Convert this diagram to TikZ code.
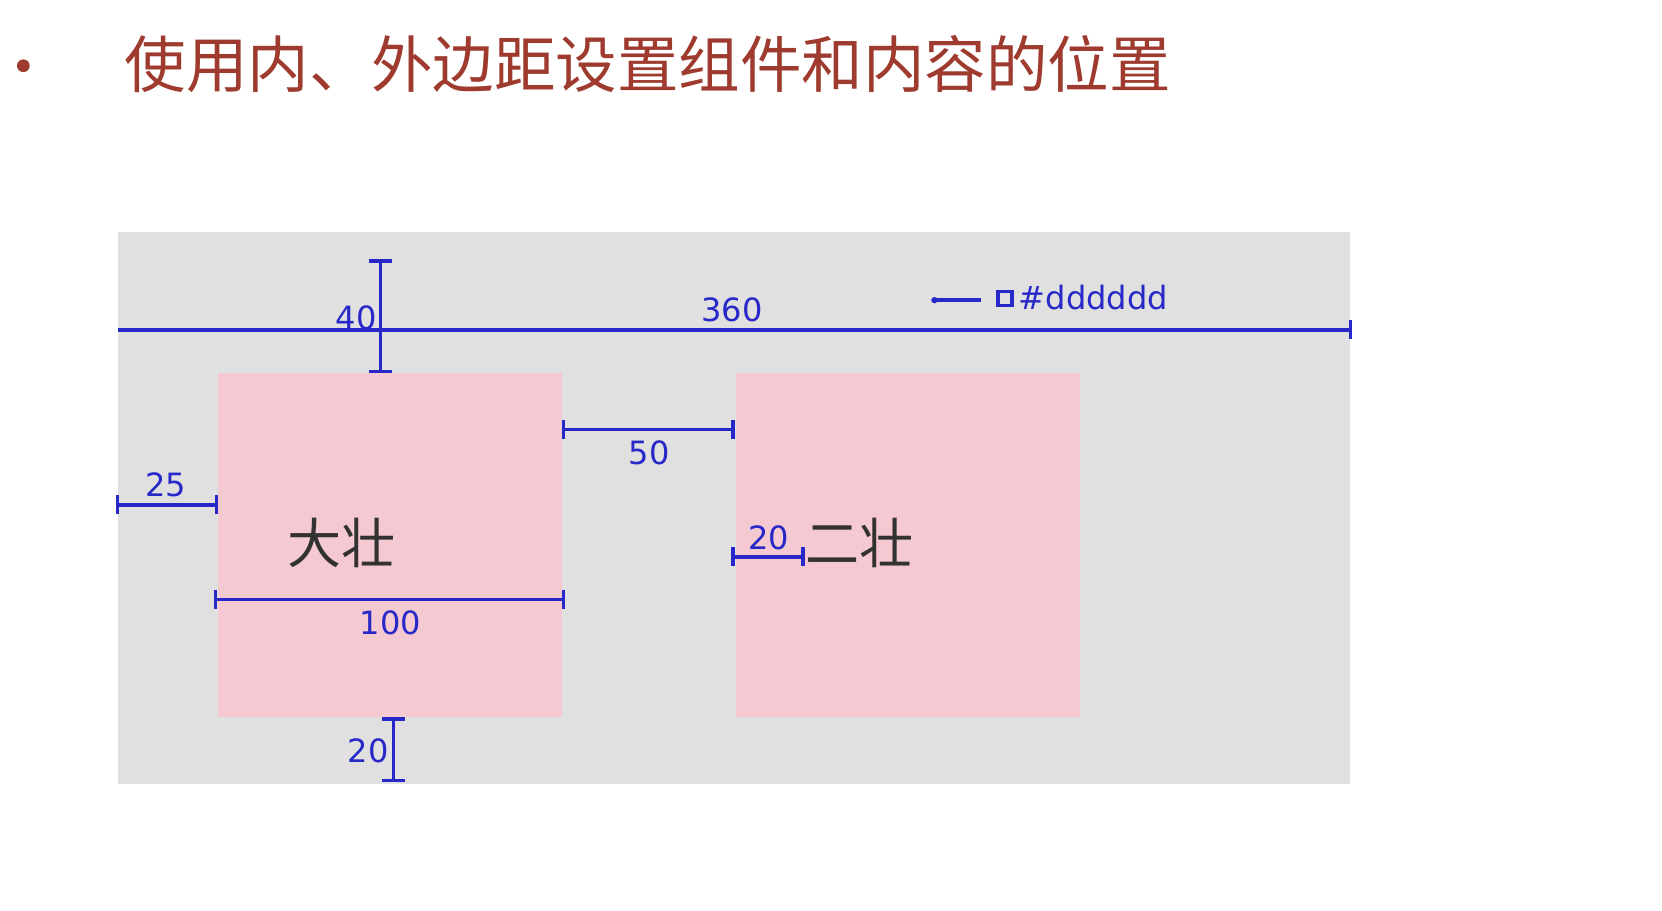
\documentclass[tikz,border=0pt]{standalone}
\usepackage{fontspec}
\setmainfont{DejaVu Sans}
\newfontfamily\cjk{Noto Sans CJK SC}
\definecolor{dimblue}{RGB}{40,40,200}
\definecolor{titlered}{RGB}{158,59,46}
\definecolor{bggray}{RGB}{224,224,224}
\definecolor{pinkc}{RGB}{244,201,209}
\definecolor{txtgray}{RGB}{50,50,50}
\begin{document}
\begin{tikzpicture}[x=0.01cm,y=-0.01cm,
  dim/.style={draw=dimblue,line width=0.9pt},
  tick/.style={dim},
  num/.style={text=dimblue,font=\fontsize{8.6pt}{9pt}\selectfont,inner sep=0pt},
  big/.style={text=txtgray,font=\cjk\fontsize{14.5pt}{15pt}\selectfont,inner sep=0pt},
  pinkbox/.style={fill=pinkc,draw=none}]
\useasboundingbox[fill=white] (0,0) rectangle (1567,858);
\fill[titlered] (22,62) circle (6);
\node[anchor=west,inner sep=0pt,text=titlered,font=\cjk\fontsize{16.5pt}{18pt}\selectfont] (title) at (117,60) {使用内、外边距设置组件和内容的位置};
\fill[bggray] (111,219) rectangle (1273,739);
\node[pinkbox,minimum width=3.24cm,minimum height=3.24cm,anchor=north west] (b1) at (205,351) {};
\node[pinkbox,minimum width=3.24cm,minimum height=3.24cm,anchor=north west] (b2) at (693,351) {};
\node[big] (t1) at (322,512) {大壮};
\node[big] (t2) at (810,512) {二壮};
% 360
\coordinate (h1) at (111,311); \coordinate (h2) at (1273,311);
\draw[dim] (h1) -- (h2); \draw[tick] (1273,302) -- (1273,320);
\node[num] (n360) at (690,292) {360};
% 40
\coordinate (v1) at (359,246); \coordinate (v2) at (359,350);
\draw[dim] (v1) -- (v2); \draw[tick] (348,246) -- (370,246); \draw[tick] (348,350) -- (370,350);
\node[num] (n40) at (336,300) {40};
% 50
\coordinate (a1) at (531,405); \coordinate (a2) at (691,405);
\draw[dim] (a1) -- (a2); \draw[tick] (531,396) -- (531,414); \draw[tick] (691,396) -- (691,414);
\node[num] (n50) at (612,427) {50};
% 25
\coordinate (c1) at (111,476); \coordinate (c2) at (204,476);
\draw[dim] (c1) -- (c2); \draw[tick] (111,467) -- (111,485); \draw[tick] (204,467) -- (204,485);
\node[num] (n25) at (156,457) {25};
% 100
\coordinate (d1) at (203,565); \coordinate (d2) at (531,565);
\draw[dim] (d1) -- (d2); \draw[tick] (203,556) -- (203,574); \draw[tick] (531,556) -- (531,574);
\node[num] (n100) at (368,587) {100};
% 20 bottom
\coordinate (e1) at (371,678); \coordinate (e2) at (371,736);
\draw[dim] (e1) -- (e2); \draw[tick] (360,678) -- (382,678); \draw[tick] (360,736) -- (382,736);
\node[num] (n20b) at (347,708) {20};
% 20 inner
\coordinate (f1) at (691,525); \coordinate (f2) at (757,525);
\draw[dim] (f1) -- (f2); \draw[tick] (691,516) -- (691,534); \draw[tick] (757,516) -- (757,534);
\node[num] (n20i) at (725,507) {20};
% legend
\coordinate (l1) at (881,283); \coordinate (l2) at (925,283);
\draw[dim] (l1) -- (l2); \fill[dimblue] (l1) circle (3);
\draw[dim,fill=bggray] (941,275) rectangle (954,288);
\node[num,anchor=west] (leg) at (960,281) {\#dddddd};
\end{tikzpicture}
\end{document}
